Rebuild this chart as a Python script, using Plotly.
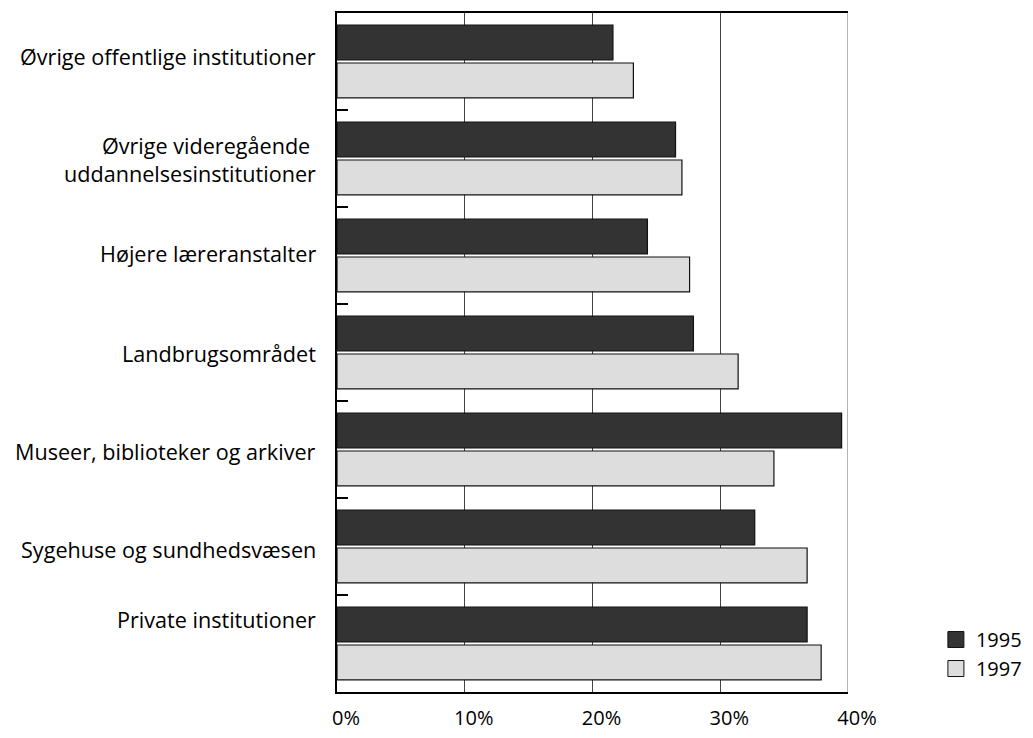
import plotly.graph_objects as go

categories = [
    "Øvrige offentlige institutioner",
    "Øvrige videregående <br>uddannelsesinstitutioner",
    "Højere læreranstalter",
    "Landbrugsområdet",
    "Museer, biblioteker og arkiver",
    "Sygehuse og sundhedsvæsen",
    "Private institutioner",
]
values_1995 = [21.6, 26.5, 24.3, 27.9, 39.5, 32.7, 36.8]
values_1997 = [23.2, 27.0, 27.6, 31.4, 34.2, 36.8, 37.9]
tick_vals = [0, 10, 20, 30, 40]
tick_text = ["0%", "10%", "20%", "30%", "40%"]
series_names = ["1995", "1997"]

label_yshift = [5, -1, 2, -1, -2, -3, 24]

FONT = "Open Sans"
FS = 21.6
dark = "#333333"
light = "#dddddd"

fig = go.Figure()
for name, vals, col in [(series_names[0], values_1995, dark), (series_names[1], values_1997, light)]:
    fig.add_trace(go.Bar(
        y=categories, x=vals, orientation="h", name=name,
        marker=dict(color=col, line=dict(color="#111111", width=1.2)),
        showlegend=False, hoverinfo="x+y",
    ))
    # legend proxy
    fig.add_trace(go.Scatter(
        x=[None], y=[None], mode="markers", name=name,
        marker=dict(symbol="square", size=16, color=col, line=dict(color="#111111", width=1)),
        showlegend=True,
    ))

for cat, ys in zip(categories, label_yshift):
    fig.add_annotation(
        x=-0.037, xref="paper", y=cat, yref="y", text=cat, showarrow=False,
        xanchor="right", yanchor="middle", align="right", yshift=ys,
        font=dict(family=FONT, size=FS, color="#000000"),
    )

# thin grey right border of the plot area
fig.add_shape(type="line", xref="x", yref="paper", x0=40, x1=40, y0=0, y1=1,
              line=dict(color="#666666", width=1))

fig.update_layout(
    width=1033, height=738,
    margin=dict(l=329, r=193, t=5, b=54, autoexpand=False),
    paper_bgcolor="white", plot_bgcolor="white",
    barmode="group", bargap=0.22, bargroupgap=0.08,
    font=dict(family=FONT, size=FS, color="#000000"),
    legend=dict(
        x=1.172, xanchor="left", y=0.106, yanchor="top",
        traceorder="normal", font=dict(family=FONT, size=20),
        bgcolor="rgba(0,0,0,0)", itemsizing="trace",
    ),
    xaxis=dict(
        range=[0, 40], tickvals=tick_vals, ticktext=tick_text,
        showgrid=True, gridcolor="#444444", gridwidth=1,
        showline=True, linecolor="#000000", linewidth=2, mirror=True,
        ticks="", zeroline=False, ticklabelstandoff=7, ticklabelshift=9,
        tickfont=dict(family=FONT, size=20),
        fixedrange=True,
    ),
    yaxis=dict(
        autorange="reversed", showticklabels=False,
        showline=True, linecolor="#000000", linewidth=2,
        ticks="inside", tickson="boundaries", ticklen=11, tickwidth=2, tickcolor="#000000",
        showgrid=False, fixedrange=True,
    ),
)

fig.write_html("out.html")
